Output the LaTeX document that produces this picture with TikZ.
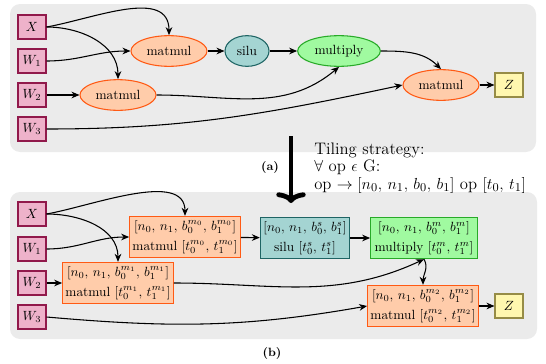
\documentclass[tikz,border=0pt]{standalone}
\usepackage{amsfonts, amsthm, amsmath}
\usepackage{amssymb}
\usetikzlibrary{arrows.meta,shapes.geometric}

\definecolor{inpfill}{RGB}{238,178,202}
\definecolor{inpdraw}{RGB}{145,25,75}
\definecolor{mmfill}{RGB}{255,204,170}
\definecolor{mmdraw}{RGB}{255,90,20}
\definecolor{silufill}{RGB}{164,212,210}
\definecolor{siludraw}{RGB}{30,100,100}
\definecolor{mulfill}{RGB}{160,250,160}
\definecolor{muldraw}{RGB}{40,170,40}
\definecolor{outfill}{RGB}{255,247,175}
\definecolor{outdraw}{RGB}{150,140,70}
\definecolor{panelgray}{RGB}{235,235,235}

\begin{document}
\begin{tikzpicture}[x=0.75pt,y=0.75pt,
  inp/.style={draw=inpdraw,fill=inpfill,line width=0.8pt,minimum width=21pt,minimum height=18pt,inner sep=0pt},
  outp/.style={draw=outdraw,fill=outfill,line width=0.8pt,minimum width=21pt,minimum height=18pt,inner sep=0pt},
  op/.style={ellipse,line width=0.8pt,minimum height=23pt,inner sep=1pt},
  tile/.style={rectangle,line width=0.8pt,minimum height=31pt,align=center,inner sep=1pt},
  mm/.style={draw=mmdraw,fill=mmfill},
  sl/.style={draw=siludraw,fill=silufill},
  mul/.style={draw=muldraw,fill=mulfill},
  edge/.style={-{Stealth[length=6pt,width=5pt]},line width=0.8pt}]
\useasboundingbox (0,0) rectangle (546,-364);

% panels
\fill[panelgray,rounded corners=7.5pt] (10,-4) rectangle (536,-152);
\fill[panelgray,rounded corners=7.5pt] (10,-192) rectangle (537,-339);

% (a) graph
\node[inp] (x) at (32,-27) {$X$};
\node[inp] (w1) at (32,-61) {$W_1$};
\node[inp] (w2) at (32,-95) {$W_2$};
\node[inp] (w3) at (32,-129) {$W_3$};
\node[op,mm,minimum width=57pt] (mma) at (169,-51) {matmul};
\node[op,sl,minimum width=33pt] (silua) at (247,-51) {silu};
\node[op,mm,minimum width=57pt] (mmb) at (118,-95) {matmul};
\node[op,mul,minimum width=62pt] (mula) at (339,-51) {multiply};
\node[op,mm,minimum width=57pt] (mmc) at (441,-85) {matmul};
\node[outp] (z) at (509,-85) {$Z$};

\draw[edge] (x.east) to[out=10,in=90] (mma.north);
\draw[edge] (x.east) to[out=0,in=90] (mmb.north);
\draw[edge] (w1.east) to[out=0,in=180] (mma.west);
\draw[edge] (w2) -- (mmb);
\draw[edge] (mma) -- (silua);
\draw[edge] (silua) -- (mula);
\draw[edge] (mmb.east) to[out=0,in=-140] (mula.south);
\draw[edge] (w3.east) to[out=0,in=-168] (mmc.west);
\draw[edge] (mula.east) to[out=0,in=135] (mmc.north);
\draw[edge] (mmc) -- (z);

% tiling step
\node[font=\small\bfseries] (la) at (270,-167) {(a)};
\coordinate (top) at (291,-136);
\coordinate (bot) at (291,-203);
\draw[line width=3.6pt,-{Computer Modern Rightarrow[length=8pt,width=22pt]}] (top) -- (bot);
\node[font=\fontsize{12.5}{13.2}\selectfont,align=left,anchor=west,inner sep=0pt] (rule) at (314,-168)
  {Tiling strategy:\\ $\forall$ op $\epsilon$ G:\\ op $\rightarrow [n_0,\,n_1,\,b_0,\,b_1]$ op $[t_0,\,t_1]$};

% (b) graph
\node[inp] (xt) at (32,-214) {$X$};
\node[inp] (w1t) at (32,-249) {$W_1$};
\node[inp] (w2t) at (32,-283) {$W_2$};
\node[inp] (w3t) at (32,-317) {$W_3$};
\node[tile,mm,minimum width=83pt] (mm0) at (185,-237)
  {$[n_0,\,n_1,\,b_0^{m_0},\,b_1^{m_0}]$\\[3pt] matmul $[t_0^{m_0},\,t_1^{m_0}]$};
\node[tile,mm,minimum width=83pt] (mm1) at (118,-283)
  {$[n_0,\,n_1,\,b_0^{m_1},\,b_1^{m_1}]$\\[3pt] matmul $[t_0^{m_1},\,t_1^{m_1}]$};
\node[tile,sl,minimum width=67pt] (silut) at (305,-238)
  {$[n_0,\,n_1,\,b_0^{s},\,b_1^{s}]$\\[3pt] silu $[t_0^{s},\,t_1^{s}]$};
\node[tile,mul,minimum width=80pt] (mult) at (424,-238)
  {$[n_0,\,n_1,\,b_0^{m},\,b_1^{m}]$\\[3pt] multiply $[t_0^{m},\,t_1^{m}]$};
\node[tile,mm,minimum width=83pt] (mm2) at (423,-306)
  {$[n_0,\,n_1,\,b_0^{m_2},\,b_1^{m_2}]$\\[3pt] matmul $[t_0^{m_2},\,t_1^{m_2}]$};
\node[outp] (zt) at (509,-306) {$Z$};

\draw[edge] (xt.east) to[out=10,in=90,looseness=0.85] (mm0.north);
\draw[edge] (xt.east) to[out=0,in=90] (mm1.north);
\draw[edge] (w1t.east) to[out=0,in=180] (mm0.west);
\draw[edge] (w2t) -- (mm1);
\draw[edge] (mm0) -- (silut);
\draw[edge] (silut) -- (mult);
\draw[edge] (mm1.east) to[out=0,in=-155] (mult.south);
\draw[edge] (mult.south) to[out=-60,in=90] (mm2.north);
\draw[edge] (w3t.east) to[out=-5,in=-170] (mm2.west);
\draw[edge] (mm2) -- (zt);

\node[font=\small\bfseries] (lb) at (272,-353) {(b)};
\end{tikzpicture}
\end{document}
